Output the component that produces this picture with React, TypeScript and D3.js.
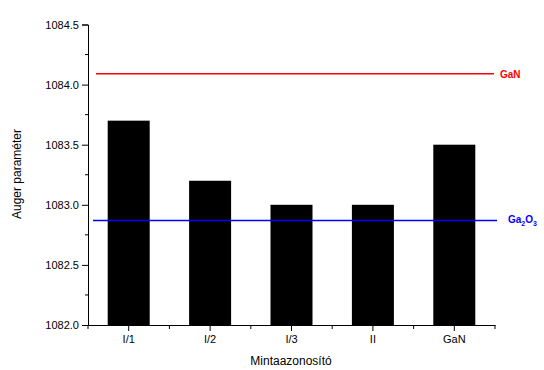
import * as d3 from "d3";
import { useEffect, useRef } from "react";

const samples = ["I/1", "I/2", "I/3", "II", "GaN"];
const auger = [1083.7, 1083.2, 1083.0, 1083.0, 1083.5];
const refNames = ["GaN", "Ga2O3"];
const refValues = [1084.09, 1082.87];
const refColors = ["#ff0000", "#0000ff"];
const yTicks = [1082.0, 1082.5, 1083.0, 1083.5, 1084.0, 1084.5];

function App() {
  const svgRef = useRef<SVGSVGElement | null>(null);

  useEffect(() => {
    const svg = d3.select(svgRef.current);
    svg.selectAll("*").remove();
    const font = "Liberation Sans, Arial, sans-serif";

    const x = d3.scaleBand().domain(samples).range([88, 495]).paddingInner(0).paddingOuter(0);
    const y = d3.scaleLinear().domain([1082, 1084.5]).range([325, 24.5]);

    // bars
    svg.append("g")
      .selectAll("rect")
      .data(auger)
      .join("rect")
      .attr("x", (d, i) => x(samples[i])! + x.bandwidth() / 2 - 21)
      .attr("y", (d) => y(d))
      .attr("width", 42)
      .attr("height", (d) => y(1082) - y(d))
      .attr("fill", "#000");

    // reference lines
    const lineStart = [96, 93];
    const lineEnd = [494, 497];
    refValues.forEach((v, i) => {
      svg.append("line")
        .attr("x1", lineStart[i])
        .attr("x2", lineEnd[i])
        .attr("y1", y(v))
        .attr("y2", y(v))
        .attr("stroke", refColors[i])
        .attr("stroke-width", 1.5);
    });

    svg.append("text")
      .attr("x", 500).attr("y", y(refValues[0]) + 4)
      .attr("fill", refColors[0])
      .style("font", `bold 10px ${font}`)
      .text(refNames[0]);

    const ga = svg.append("text")
      .attr("x", 508).attr("y", y(refValues[1]) + 3)
      .attr("fill", refColors[1])
      .style("font", `bold 10px ${font}`);
    ga.append("tspan").text("Ga");
    ga.append("tspan").attr("dy", 3).style("font-size", "7px").text("2");
    ga.append("tspan").attr("dy", -3).text("O");
    ga.append("tspan").attr("dy", 3).style("font-size", "7px").text("3");

    // y axis
    const yAxis = d3.axisLeft(y).tickValues(yTicks).tickFormat(d3.format(".1f")).tickSize(6).tickPadding(3);
    const gy = svg.append("g").attr("transform", "translate(88,0)").call(yAxis);
    gy.selectAll("text").style("font", `11px ${font}`).attr("fill", "#000");
    const yMinor = d3.range(1082.25, 1084.5, 0.5);
    gy.selectAll(".minor")
      .data(yMinor)
      .join("line")
      .attr("x1", -3).attr("x2", 0)
      .attr("y1", (d) => y(d)).attr("y2", (d) => y(d))
      .attr("stroke", "#000");

    // x axis
    const xAxis = d3.axisBottom(x).tickSize(6).tickPadding(4).tickSizeOuter(0);
    const gx = svg.append("g").attr("transform", "translate(0,325)").call(xAxis);
    gx.selectAll("text").style("font", `11px ${font}`).attr("fill", "#000");
    const xMinor = d3.range(samples.length + 1).map((i) => 88 + i * x.step());
    gx.selectAll(".minor")
      .data(xMinor)
      .join("line")
      .attr("x1", (d) => d).attr("x2", (d) => d)
      .attr("y1", 0).attr("y2", 4)
      .attr("stroke", "#000");

    svg.append("text")
      .attr("x", 291).attr("y", 365)
      .attr("text-anchor", "middle")
      .style("font", `12px ${font}`)
      .text("Mintaazonosító");

    svg.append("text")
      .attr("transform", "translate(21,174) rotate(-90)")
      .attr("text-anchor", "middle")
      .style("font", `12px ${font}`)
      .text("Auger paraméter");
  }, []);

  return (
    <svg ref={svgRef} width={544} height={370} style={{ position: "absolute", left: 0, top: 0, background: "#fff" }} />
  );
}

export default App;
